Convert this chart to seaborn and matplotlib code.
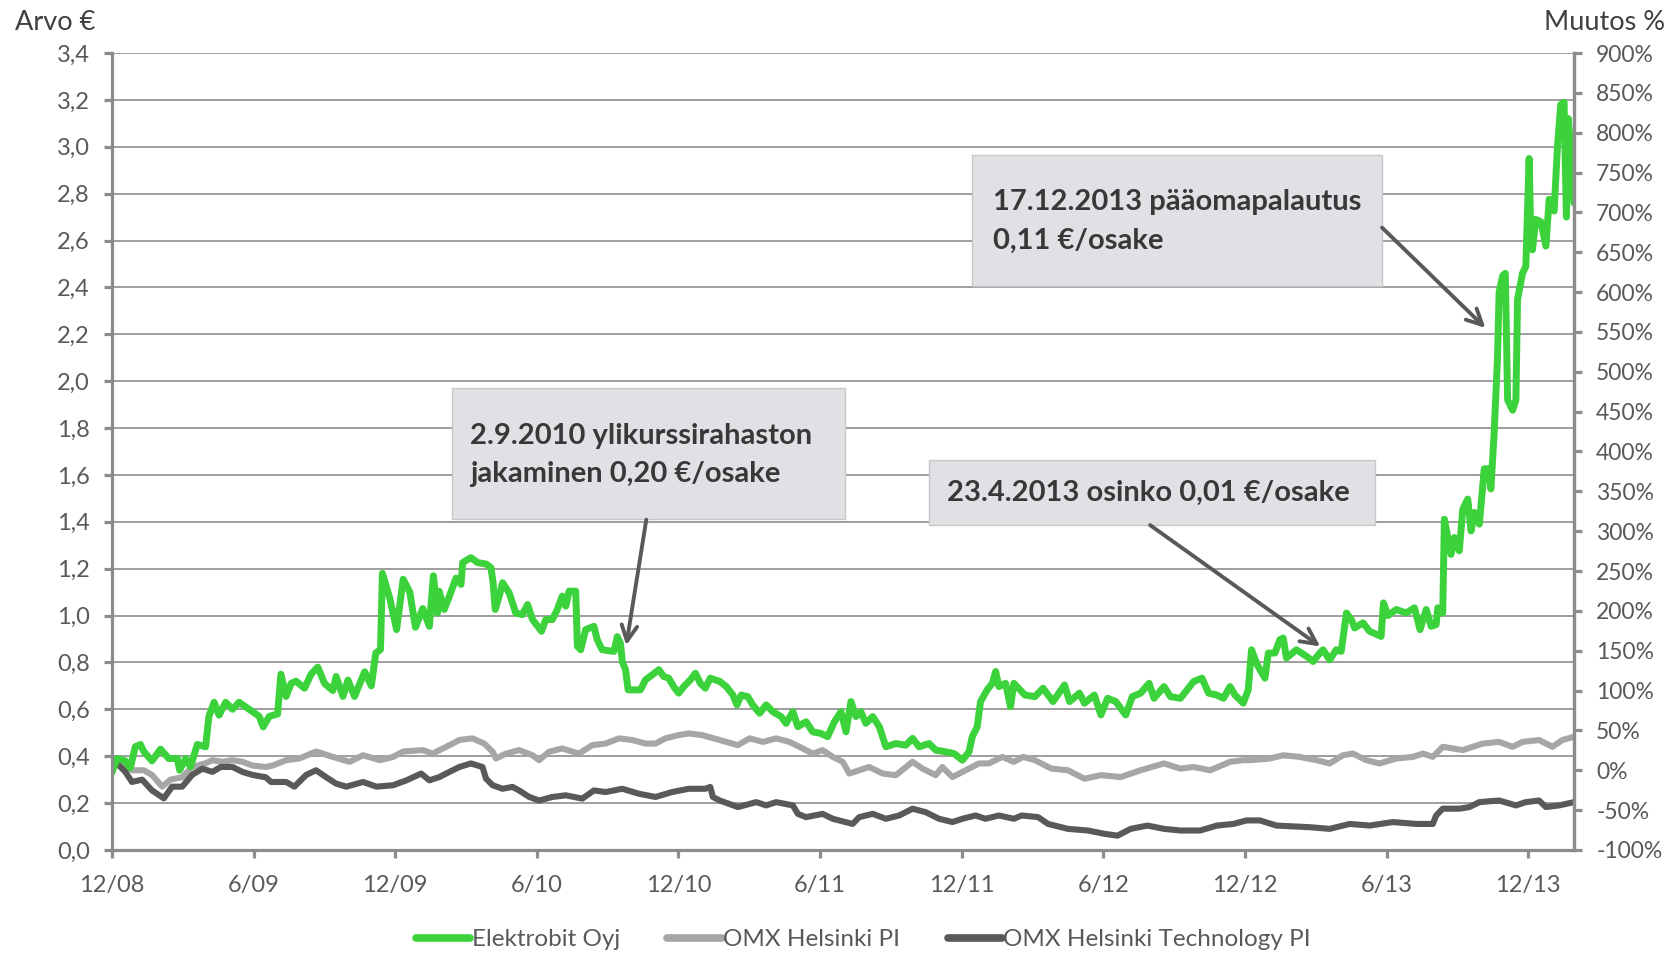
import numpy as np
import pandas as pd
import matplotlib.pyplot as plt
import seaborn as sns
from matplotlib.patches import Rectangle
from matplotlib.lines import Line2D

# x = kuukausia 1.12.2008 jälkeen, arvo = euroa
eb_kk = [0.00, 0.21, 0.57, 0.78, 0.99, 1.21, 1.35, 1.70, 2.06, 2.41, 2.77, 2.87, 3.12, 3.33, 3.62, 3.97,
         4.11, 4.33, 4.54, 4.82, 5.11, 5.39, 5.67, 5.96, 6.24, 6.41, 6.67, 7.02, 7.16, 7.38, 7.59, 7.80,
         8.16, 8.44, 8.72, 9.01, 9.36, 9.50, 9.79, 10.00, 10.28, 10.71, 10.99, 11.18, 11.38, 11.46, 11.77,
         12.06, 12.34, 12.62, 12.86, 13.17, 13.45, 13.62, 13.79, 13.86, 14.08, 14.30, 14.58, 14.79, 14.86,
         15.21, 15.49, 15.85, 16.06, 16.15, 16.24, 16.41, 16.55, 16.83, 17.11, 17.39, 17.61, 17.82, 18.20,
         18.38, 18.66, 18.87, 19.08, 19.23, 19.37, 19.65, 19.72, 19.86, 20.07, 20.42, 20.56, 20.77, 21.27,
         21.41, 21.55, 21.62, 21.76, 21.87, 22.39, 22.61, 22.89, 23.17, 23.38, 23.59, 23.80, 24.01, 24.23,
         24.51, 24.72, 24.93, 25.14, 25.35, 25.75, 26.03, 26.31, 26.48, 26.66, 26.94, 27.15, 27.44, 27.72,
         28.00, 28.35, 28.56, 28.85, 29.06, 29.41, 29.69, 30.04, 30.32, 30.61, 30.89, 31.10, 31.31, 31.52,
         31.73, 31.94, 32.23, 32.51, 32.79, 33.21, 33.63, 33.92, 34.20, 34.62, 34.90, 35.32, 35.68, 36.03,
         36.31, 36.45, 36.66, 36.80, 37.08, 37.30, 37.44, 37.58, 37.86, 38.07, 38.21, 38.68, 39.10, 39.45,
         39.87, 40.36, 40.57, 40.99, 41.20, 41.62, 41.90, 42.18, 42.53, 42.95, 43.23, 43.58, 43.94, 44.15,
         44.57, 44.85, 45.27, 45.55, 45.83, 46.18, 46.46, 46.81, 47.09, 47.37, 47.58, 47.93, 48.14, 48.28,
         48.49, 48.56, 48.85, 48.99, 49.27, 49.48, 49.62, 49.76, 50.18, 50.61, 50.89, 51.17, 51.31, 51.59,
         51.87, 52.08, 52.30, 52.51, 52.65, 53.00, 53.28, 53.77, 53.87, 54.06, 54.41, 54.83, 55.18, 55.42,
         55.68, 55.89, 56.10, 56.17, 56.38, 56.45, 56.73, 56.87, 57.08, 57.23, 57.44, 57.58, 57.72, 57.93,
         58.14, 58.32, 58.42, 58.56, 58.70, 58.77, 58.92, 59.03, 59.13, 59.34, 59.48, 59.55, 59.76, 59.90,
         60.04, 60.11, 60.18, 60.32, 60.54, 60.75, 60.89, 61.10, 61.24, 61.38, 61.52, 61.62, 61.70, 61.80,
         61.94]
eb_arvo = [0.33, 0.39, 0.38, 0.35, 0.44, 0.45, 0.42, 0.38, 0.43, 0.39, 0.39, 0.34, 0.39, 0.355, 0.45, 0.44,
           0.57, 0.63, 0.575, 0.63, 0.60, 0.63, 0.61, 0.59, 0.57, 0.525, 0.57, 0.58, 0.75, 0.655, 0.71, 0.72,
           0.69, 0.75, 0.78, 0.71, 0.68, 0.74, 0.655, 0.725, 0.655, 0.76, 0.70, 0.84, 0.855, 1.18, 1.075,
           0.94, 1.155, 1.10, 0.95, 1.03, 0.954, 1.17, 1.01, 1.104, 1.026, 1.083, 1.16, 1.133, 1.226,
           1.247, 1.226, 1.22, 1.204, 1.14, 1.026, 1.083, 1.14, 1.097, 1.011, 1.004, 1.047, 0.983, 0.933,
           0.983, 0.983, 1.026, 1.083, 1.04, 1.104, 1.104, 0.869, 0.854, 0.94, 0.954, 0.897, 0.854, 0.847,
           0.91, 0.88, 0.804, 0.769, 0.683, 0.683, 0.726, 0.747, 0.769, 0.74, 0.733, 0.697, 0.669, 0.697,
           0.726, 0.754, 0.711, 0.69, 0.733, 0.719, 0.697, 0.661, 0.619, 0.661, 0.654, 0.619, 0.583, 0.619,
           0.59, 0.569, 0.54, 0.59, 0.526, 0.547, 0.504, 0.497, 0.483, 0.547, 0.59, 0.504, 0.633, 0.569,
           0.59, 0.54, 0.569, 0.526, 0.44, 0.454, 0.447, 0.476, 0.44, 0.454, 0.426, 0.419, 0.411, 0.383,
           0.419, 0.483, 0.526, 0.633, 0.683, 0.711, 0.761, 0.697, 0.711, 0.611, 0.711, 0.661, 0.654, 0.69,
           0.633, 0.704, 0.633, 0.669, 0.626, 0.661, 0.576, 0.647, 0.633, 0.576, 0.654, 0.669, 0.711, 0.647,
           0.697, 0.654, 0.647, 0.683, 0.719, 0.733, 0.669, 0.661, 0.647, 0.697, 0.661, 0.626, 0.683, 0.854,
           0.797, 0.783, 0.733, 0.84, 0.84, 0.897, 0.904, 0.819, 0.854, 0.826, 0.804, 0.84, 0.854, 0.811,
           0.854, 0.847, 1.011, 0.983, 0.947, 0.969, 0.933, 0.911, 1.054, 1.0, 1.026, 1.011, 1.033, 0.94,
           1.026, 0.954, 0.961, 1.033, 1.011, 1.411, 1.261, 1.333, 1.276, 1.454, 1.497, 1.361, 1.44, 1.39,
           1.626, 1.626, 1.54, 1.783, 2.10, 2.38, 2.45, 2.46, 1.92, 1.876, 1.92, 2.35, 2.46, 2.49,
           2.95, 2.63, 2.56, 2.69, 2.68, 2.576, 2.776, 2.726, 3.0, 3.18, 3.19, 2.70, 3.12, 2.99,
           2.76]

omx_kk = [0.00, 0.28, 0.85, 1.35, 1.70, 2.13, 2.48, 2.98, 3.40, 3.97, 4.26, 4.68, 5.11, 5.53, 5.96, 6.52,
          6.81, 7.38, 7.94, 8.65, 9.36, 10.07, 10.64, 11.35, 11.91, 12.34, 13.17, 13.59, 14.30, 14.72, 15.28,
          15.77, 16.13, 16.27, 16.69, 17.25, 17.82, 18.10, 18.52, 19.08, 19.79, 20.35, 20.92, 21.48, 22.04,
          22.61, 23.03, 23.45, 24.01, 24.44, 25.00, 25.75, 26.52, 27.01, 27.58, 28.14, 28.70, 29.13, 29.69,
          30.11, 30.54, 30.96, 31.24, 31.66, 32.08, 32.65, 33.21, 33.92, 34.34, 34.90, 35.18, 35.61, 36.17,
          36.73, 37.15, 37.72, 38.21, 38.61, 39.10, 39.80, 40.50, 41.20, 41.90, 42.74, 43.58, 44.57, 45.27,
          45.83, 46.53, 47.37, 47.93, 48.21, 49.06, 49.62, 50.32, 51.03, 51.59, 52.15, 52.58, 53.14, 53.70,
          54.41, 55.11, 55.54, 55.96, 56.38, 57.23, 58.07, 58.77, 59.34, 59.76, 60.46, 61.03, 61.45, 61.94]
omx_arvo = [0.354, 0.37, 0.34, 0.34, 0.32, 0.27, 0.30, 0.31, 0.354, 0.37, 0.383, 0.376, 0.383, 0.376, 0.36,
            0.354, 0.36, 0.383, 0.39, 0.42, 0.397, 0.376, 0.404, 0.383, 0.397, 0.42, 0.426, 0.411, 0.447,
            0.469, 0.476, 0.454, 0.419, 0.39, 0.411, 0.426, 0.404, 0.383, 0.419, 0.433, 0.411, 0.447, 0.454,
            0.476, 0.469, 0.454, 0.454, 0.476, 0.49, 0.497, 0.49, 0.469, 0.447, 0.476, 0.461, 0.476, 0.461,
            0.44, 0.411, 0.426, 0.397, 0.376, 0.326, 0.34, 0.354, 0.326, 0.319, 0.376, 0.347, 0.319, 0.354,
            0.311, 0.34, 0.369, 0.369, 0.397, 0.376, 0.397, 0.383, 0.347, 0.34, 0.304, 0.319, 0.311, 0.34,
            0.369, 0.347, 0.354, 0.34, 0.376, 0.383, 0.383, 0.39, 0.404, 0.397, 0.383, 0.369, 0.404, 0.411,
            0.383, 0.369, 0.39, 0.397, 0.411, 0.397, 0.44, 0.426, 0.454, 0.461, 0.44, 0.461, 0.469, 0.44,
            0.469, 0.483]

tech_kk = [0.00, 0.21, 0.57, 0.85, 1.28, 1.70, 2.20, 2.55, 2.98, 3.40, 3.83, 4.26, 4.61, 5.11, 5.53, 5.96,
           6.52, 6.74, 7.38, 7.73, 8.23, 8.65, 9.08, 9.50, 9.93, 10.64, 11.21, 11.91, 12.48, 13.10, 13.45,
           13.87, 14.30, 14.72, 15.21, 15.70, 15.85, 16.13, 16.55, 16.97, 17.25, 17.68, 18.10, 18.66, 19.23,
           19.93, 20.42, 20.92, 21.62, 22.32, 23.03, 23.73, 24.44, 25.14, 25.35, 25.46, 25.75, 26.52, 27.30,
           27.72, 28.14, 28.85, 29.06, 29.41, 30.11, 30.54, 31.38, 31.66, 32.23, 32.79, 33.35, 33.92, 34.48,
           35.04, 35.61, 36.03, 36.59, 37.01, 37.58, 38.21, 38.54, 39.24, 39.66, 40.50, 41.34, 42.04, 42.60,
           43.16, 43.87, 44.57, 45.27, 46.11, 46.81, 47.51, 48.07, 48.63, 49.34, 50.75, 51.59, 52.44, 53.28,
           54.27, 55.25, 55.96, 56.10, 56.38, 57.08, 57.51, 57.93, 58.77, 59.48, 59.90, 60.46, 60.75, 61.31,
           61.94]
tech_arvo = [0.34, 0.37, 0.333, 0.29, 0.30, 0.254, 0.22, 0.27, 0.27, 0.32, 0.347, 0.333, 0.354, 0.354, 0.333,
             0.32, 0.31, 0.29, 0.29, 0.27, 0.32, 0.34, 0.31, 0.283, 0.27, 0.29, 0.27, 0.276, 0.297, 0.326,
             0.297, 0.311, 0.333, 0.354, 0.369, 0.354, 0.304, 0.276, 0.261, 0.269, 0.254, 0.226, 0.211, 0.226,
             0.233, 0.219, 0.254, 0.247, 0.261, 0.24, 0.226, 0.247, 0.261, 0.261, 0.269, 0.226, 0.211, 0.183,
             0.204, 0.19, 0.204, 0.19, 0.154, 0.14, 0.154, 0.133, 0.111, 0.14, 0.154, 0.133, 0.147, 0.176,
             0.161, 0.133, 0.119, 0.133, 0.147, 0.133, 0.147, 0.133, 0.147, 0.14, 0.111, 0.09, 0.083, 0.069,
             0.061, 0.09, 0.104, 0.09, 0.083, 0.083, 0.104, 0.111, 0.126, 0.126, 0.104, 0.097, 0.09, 0.111,
             0.104, 0.119, 0.111, 0.111, 0.147, 0.176, 0.176, 0.183, 0.204, 0.211, 0.19, 0.204, 0.211, 0.183,
             0.19, 0.204]

sarjat = ['Elektrobit Oyj', 'OMX Helsinki PI', 'OMX Helsinki Technology PI']
varit = ['#3bd23b', '#a6a6a6', '#595959']

x_tikit = [0, 6, 12, 18, 24, 30, 36, 42, 48, 54, 60]
x_nimet = ['12/08', '6/09', '12/09', '6/10', '12/10', '6/11', '12/11', '6/12', '12/12', '6/13', '12/13']
y_tikit = np.arange(0, 3.41, 0.2)
muutos_tikit = np.arange(-100, 901, 50)

sns.set_theme(style='white')
plt.rcParams['font.family'] = ['Lato', 'DejaVu Sans']

df = pd.concat([
    pd.DataFrame({'kk': eb_kk, 'arvo': eb_arvo, 'sarja': sarjat[0]}),
    pd.DataFrame({'kk': omx_kk, 'arvo': omx_arvo, 'sarja': sarjat[1]}),
    pd.DataFrame({'kk': tech_kk, 'arvo': tech_arvo, 'sarja': sarjat[2]}),
])

fig = plt.figure(figsize=(16.7, 9.55), dpi=100)
ax = fig.add_axes([0.067, 0.110, 0.8755, 0.8345])

tekstivari = '#595959'
akselivari = '#8c8c8c'

# harmaat ensin, vihreä päällimmäiseksi
for nimi, vari, lw in [(sarjat[1], varit[1], 4.4), (sarjat[2], varit[2], 4.4), (sarjat[0], varit[0], 5.0)]:
    sns.lineplot(data=df[df['sarja'] == nimi], x='kk', y='arvo', color=vari, lw=lw,
                 sort=False, ax=ax, legend=False, solid_capstyle='round', solid_joinstyle='round')

ax.set_xlim(0, 61.94)
ax.set_ylim(0, 3.4)
ax.set_yticks(y_tikit)
ax.set_yticklabels([f'{t:.1f}'.replace('.', ',') for t in y_tikit])
ax.set_xticks(x_tikit)
ax.set_xticklabels(x_nimet)
ax.set_xlabel('')
ax.set_ylabel('')
ax.grid(axis='y', color='#969696', lw=1.3)
ax.set_axisbelow(True)
for s in ['left', 'bottom', 'right']:
    ax.spines[s].set_color(akselivari)
    ax.spines[s].set_linewidth(2.3)
ax.spines['top'].set_visible(False)
ax.tick_params(axis='both', colors=akselivari, labelcolor=tekstivari, labelsize=17,
               length=6, width=2.3, direction='out')
ax.tick_params(axis='y', pad=10)
ax.tick_params(axis='x', pad=12)
ax.tick_params(left=True, bottom=True)

ax2 = ax.twinx()
ax2.set_ylim(-100, 900)
ax2.set_yticks(muutos_tikit)
ax2.set_yticklabels([f'{t}%' for t in muutos_tikit])
ax2.tick_params(axis='y', colors=akselivari, labelcolor=tekstivari, labelsize=16.5,
                length=6, width=2.3, direction='out', pad=10, right=True)
ax2.grid(False)
for s in ['left', 'bottom', 'top']:
    ax2.spines[s].set_visible(False)
ax2.spines['right'].set_color(akselivari)
ax2.spines['right'].set_linewidth(2.3)

fig.text(0.009, 0.976, 'Arvo €', fontsize=19.5, color='#404040', va='center', ha='left')
fig.text(0.997, 0.976, 'Muutos %', fontsize=19.5, color='#404040', va='center', ha='right')

# huomautuslaatikot
laatikot = [
    ((0.2323, 0.4158), 0.2688, 0.1644, 0.2447, [0.520, 0.472],
     ['2.9.2010 ylikurssirahaston', 'jakaminen 0,20 €/osake']),
    ((0.5586, 0.4077), 0.3052, 0.0816, 0.5710, [0.4479], ['23.4.2013 osinko 0,01 €/osake']),
    ((0.5885, 0.7072), 0.2804, 0.1645, 0.6023, [0.8128, 0.7647],
     ['17.12.2013 pääomapalautus', '0,11 €/osake']),
]
for xy, w, h, tx, tys, rivit in laatikot:
    ax.add_patch(Rectangle(xy, w, h, transform=ax.transAxes, facecolor='#e1e1e5',
                           edgecolor='#c8c8c8', lw=1, zorder=5))
    for ty, rivi in zip(tys, rivit):
        ax.text(tx, ty, rivi, transform=ax.transAxes, fontsize=21, fontweight='bold',
                color='#383838', va='center', ha='left', zorder=6)

nuolet = [((22.64, 1.409), (21.79, 0.873)),
          ((43.98, 1.386), (51.19, 0.868)),
          ((53.81, 2.655), (58.19, 2.227))]
for alku, loppu in nuolet:
    ax.annotate('', xy=loppu, xytext=alku, xycoords='data', textcoords='data',
                arrowprops=dict(arrowstyle='->', color='#595959', lw=2.8, mutation_scale=28,
                                shrinkA=0, shrinkB=0), zorder=7)

kahvat = [Line2D([0], [0], color=v, lw=5.5, solid_capstyle='round') for v in varit]
fig.legend(kahvat, sarjat, loc='center', bbox_to_anchor=(0.517, 0.016), ncol=3, frameon=False,
           fontsize=17.5, labelcolor=tekstivari, handlelength=2.25, handletextpad=0.05,
           columnspacing=1.95)

fig.savefig('out.png', dpi=100)
